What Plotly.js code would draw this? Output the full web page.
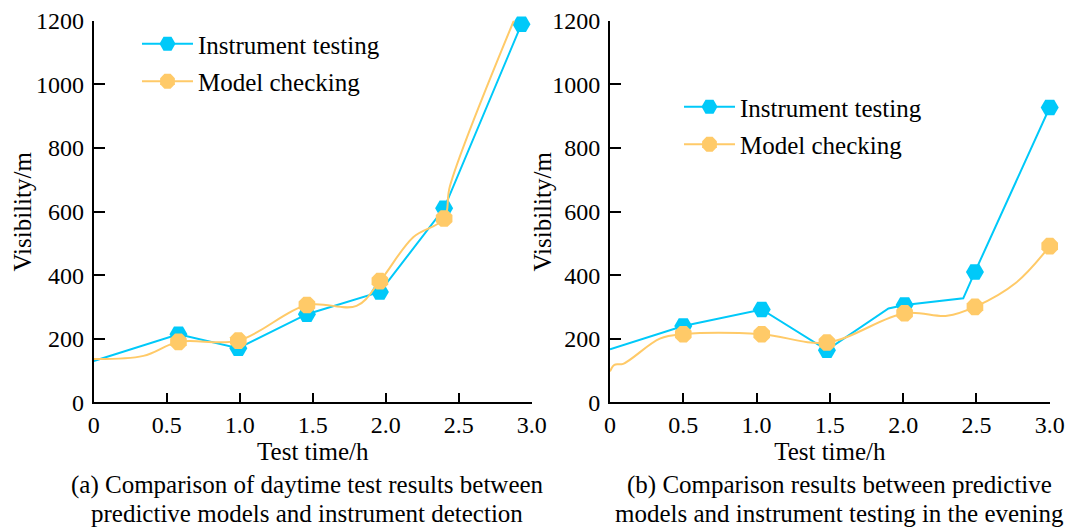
<!DOCTYPE html>
<html>
<head>
<meta charset="utf-8">
<script src="https://cdn.plot.ly/plotly-3.0.1.min.js"></script>
<style>html,body{margin:0;padding:0;background:#fff;}#chart{width:1069px;height:530px;}</style>
</head>
<body>
<div id="chart"></div>
<script>
// ---- Data ----
const seriesNames = ['Instrument testing', 'Model checking'];
const xTickVals = [0, 0.5, 1.0, 1.5, 2.0, 2.5, 3.0];
const xTickText = ['0', '0.5', '1.0', '1.5', '2.0', '2.5', '3.0'];
const yTickVals = [0, 200, 400, 600, 800, 1000, 1200];
const xTitle = 'Test time/h';
const yTitle = 'Visibility/m';

// (a) daytime
const dayInstrX = [0, 0.58, 0.99, 1.46, 1.96, 2.40, 2.93];
const dayInstrY = [130, 214, 170, 277, 347, 610, 1189];
const dayInstrMarked = [false, true, true, true, true, true, true];

const dayModelX = [0, 0.34, 0.58, 0.99, 1.46, 1.80, 1.96, 2.19, 2.40, 2.44, 2.88];
const dayModelY = [136, 146, 190, 194, 306, 303, 381, 520, 578, 680, 1203];
const dayModelMarked = [false, false, true, true, true, false, true, false, true, false, true];

// (b) evening
const eveInstrX = [0, 0.50, 1.035, 1.48, 1.90, 2.01, 2.41, 2.49, 3.0];
const eveInstrY = [167, 240, 292, 164, 295, 306, 327, 410, 927];
const eveInstrMarked = [false, true, true, true, false, true, false, true, true];

const eveModelX = [0, 0.03, 0.09, 0.34, 0.50, 1.035, 1.48, 2.01, 2.30, 2.49, 2.77, 3.0];
const eveModelY = [97, 118, 121, 200, 214, 214, 188, 280, 272, 300, 376, 491];
const eveModelMarked = [false, false, false, false, true, true, true, true, false, true, false, true];

const captionA = ['(a) Comparison of daytime test results between', 'predictive models and instrument detection'];
const captionB = ['(b) Comparison results between predictive', 'models and instrument testing in the evening'];

// ---- Styling ----
const FONT = 'Liberation Serif';
const BLUE = '#00C9F9';
const ORANGE = '#FFCA68';
const styles = [
  {color: BLUE, symbol: 'hexagon2', shape: 'linear'},
  {color: ORANGE, symbol: 'octagon', shape: 'spline'}
];

function pick(arr, mask) { return arr.filter((_, i) => mask[i]); }

function seriesTraces(xs, ys, mask, s, xa, ya) {
  return [
    {x: xs, y: ys, xaxis: xa, yaxis: ya, mode: 'lines', showlegend: false, cliponaxis: false,
     line: {color: s.color, width: 2, shape: s.shape, smoothing: 1}, hoverinfo: 'skip'},
    {x: pick(xs, mask), y: pick(ys, mask), xaxis: xa, yaxis: ya, mode: 'markers', showlegend: false, cliponaxis: false,
     marker: {color: s.color, symbol: s.symbol, size: 18}}
  ];
}
function legendTrace(name, s, xa, ya, leg) {
  return {x: [null], y: [null], xaxis: xa, yaxis: ya, name: name, mode: 'lines+markers',
    legend: leg, legendgroup: leg + name,
    line: {color: s.color, width: 2}, marker: {color: s.color, symbol: s.symbol, size: 18}};
}

const traces = [].concat(
  seriesTraces(dayInstrX, dayInstrY, dayInstrMarked, styles[0], 'x', 'y'),
  seriesTraces(dayModelX, dayModelY, dayModelMarked, styles[1], 'x', 'y'),
  seriesTraces(eveInstrX, eveInstrY, eveInstrMarked, styles[0], 'x2', 'y2'),
  seriesTraces(eveModelX, eveModelY, eveModelMarked, styles[1], 'x2', 'y2'),
  [legendTrace(seriesNames[0], styles[0], 'x', 'y', 'legend'),
   legendTrace(seriesNames[1], styles[1], 'x', 'y', 'legend'),
   legendTrace(seriesNames[0], styles[0], 'x2', 'y2', 'legend2'),
   legendTrace(seriesNames[1], styles[1], 'x2', 'y2', 'legend2')]
);

const W = 1069, H = 530;
const px = v => v / W, py = v => 1 - v / H;

function xAxis(dom, anchor) {
  return {domain: dom, anchor: anchor, range: [0, 3], tickmode: 'array', tickvals: xTickVals, ticktext: xTickText,
    ticks: 'inside', ticklen: 9, tickwidth: 2, tickcolor: '#000', showline: true, linewidth: 2, linecolor: '#000',
    showgrid: false, zeroline: false, tickfont: {family: FONT, size: 24, color: '#000'},
    title: {text: xTitle, font: {family: FONT, size: 25, color: '#000'}, standoff: 5}, automargin: false};
}
function yAxis(anchor) {
  return {domain: [py(402.3), py(20.7)], anchor: anchor, range: [0, 1200], tickmode: 'array', tickvals: yTickVals,
    ticks: 'inside', ticklen: 11, tickwidth: 2, tickcolor: '#000', showline: true, linewidth: 2, linecolor: '#000',
    showgrid: false, zeroline: false, tickfont: {family: FONT, size: 24, color: '#000'}, ticklabelstandoff: 3,
    automargin: false};
}

const legendBase = {xanchor: 'left', yanchor: 'top', bgcolor: 'rgba(0,0,0,0)', borderwidth: 0,
  font: {family: FONT, size: 25, color: '#000'}, itemwidth: 51, tracegroupgap: 2, traceorder: 'grouped'};

function cap(text, x, y) {
  return {text: text, xref: 'paper', yref: 'paper', x: px(x), y: py(y), xanchor: 'center', yanchor: 'middle',
    showarrow: false, font: {family: FONT, size: 25, color: '#000'}};
}
function yTitleAnn(x) {
  return {text: yTitle, xref: 'paper', yref: 'paper', x: px(x), y: py(211.5), xanchor: 'center', yanchor: 'middle',
    textangle: -90, showarrow: false, font: {family: FONT, size: 25, color: '#000'}};
}

const layout = {
  width: W, height: H, margin: {l: 0, r: 0, t: 0, b: 0}, paper_bgcolor: '#fff', plot_bgcolor: '#fff',
  font: {family: FONT, color: '#000'},
  xaxis: xAxis([px(93.8), px(531.7)], 'y'),
  yaxis: yAxis('x'),
  xaxis2: xAxis([px(610), px(1049.7)], 'y2'),
  yaxis2: yAxis('x2'),
  legend: Object.assign({}, legendBase, {x: px(137), y: py(21)}),
  legend2: Object.assign({}, legendBase, {x: px(679), y: py(84)}),
  annotations: [yTitleAnn(22), yTitleAnn(542),
                cap(captionA[0], 307, 485), cap(captionA[1], 307, 513),
                cap(captionB[0], 839, 485), cap(captionB[1], 839, 513)],
  showlegend: true
};

Plotly.newPlot('chart', traces, layout, {displayModeBar: false, staticPlot: true});
</script>
</body>
</html>
